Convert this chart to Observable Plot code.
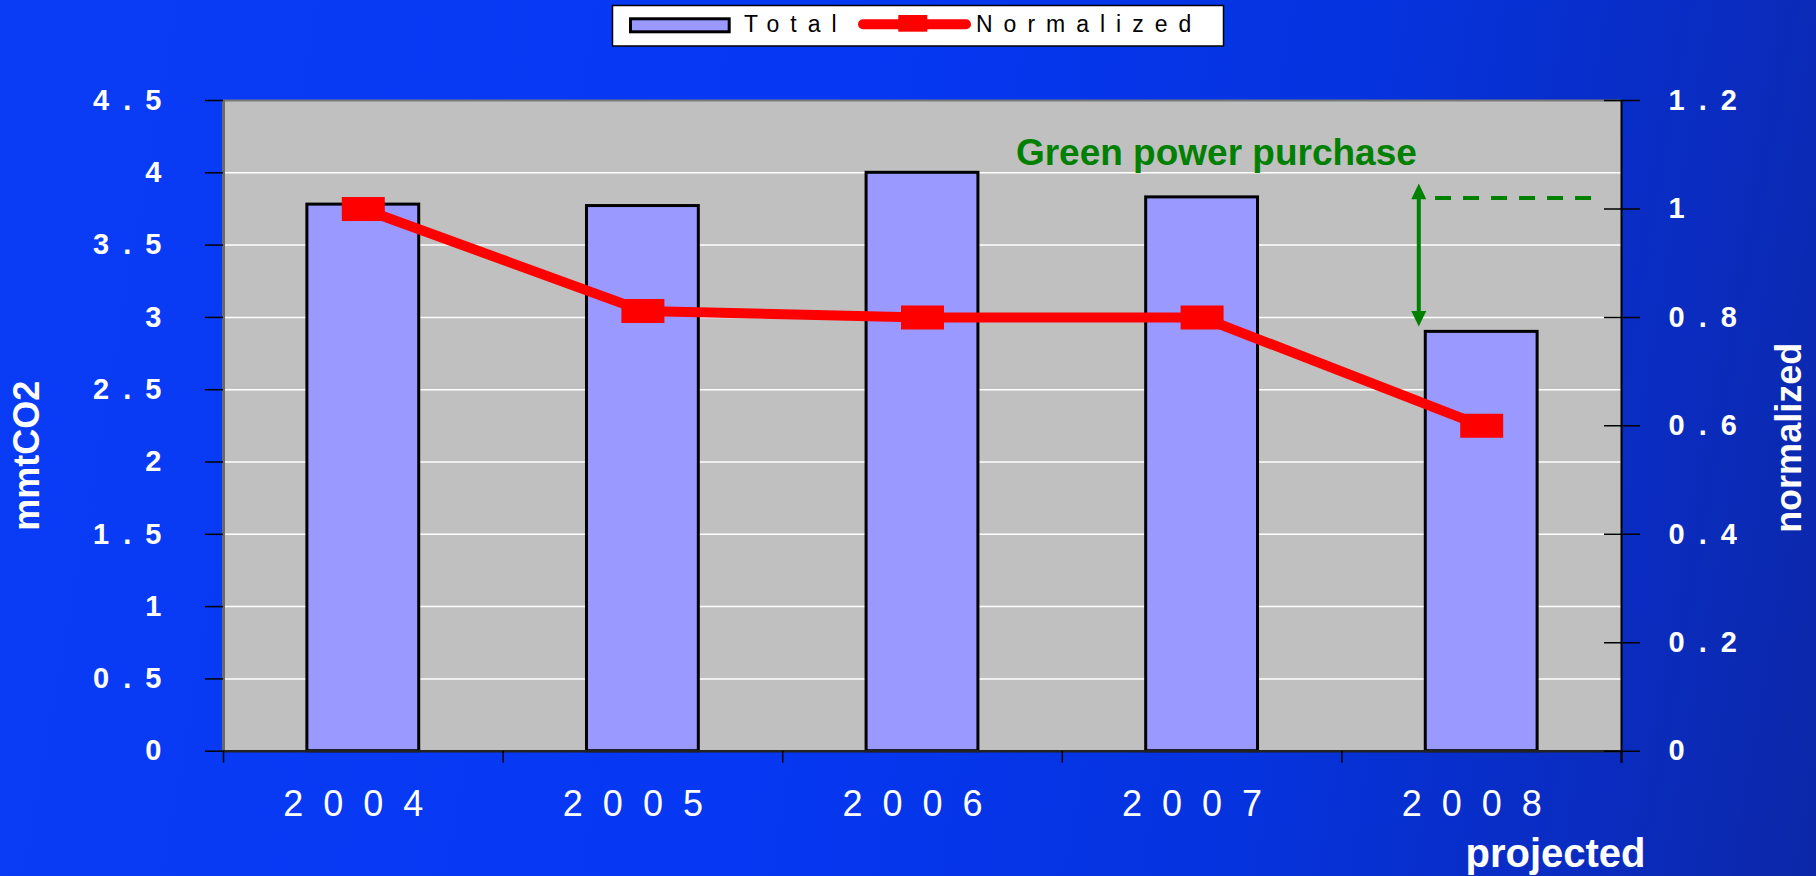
<!DOCTYPE html>
<html>
<head>
<meta charset="utf-8">
<script src="https://cdn.jsdelivr.net/npm/d3@7"></script>
<script src="https://cdn.jsdelivr.net/npm/@observablehq/plot@0.6"></script>
<style>
  html, body { margin: 0; padding: 0; width: 1816px; height: 876px; overflow: hidden; }
  body {
    font-family: Arial, "Liberation Sans", sans-serif;
    background: linear-gradient(100deg, #0a3cf6 0%, #0637f2 45%, #0533de 70%, #0a2cc0 88%, #0c28a8 100%);
  }
  #legend { position: relative; width: 1816px; height: 50px; }
  #legend svg { position: absolute; left: 0; top: 0; }
  g[aria-label="y-axis tick label"] text { letter-spacing: 3px; }
  g[aria-label="x-axis tick label"] text { letter-spacing: 20px; }
</style>
</head>
<body>
<div id="legend"></div>
<div id="chart"></div>
<script>
// ---- data ----
const years = ["2004", "2005", "2006", "2007", "2008"];
const total = [3.78, 3.77, 4.0, 3.83, 2.90];
const normalized = [1.0, 0.812, 0.80, 0.80, 0.60];
const leftTicks = [0, 0.5, 1, 1.5, 2, 2.5, 3, 3.5, 4, 4.5];
const rightTicks = [0, 0.2, 0.4, 0.6, 0.8, 1.0, 1.2];
const legendLabels = ["Total", "Normalized"];
const leftTitle = "mmtCO2";
const rightTitle = "normalized";
const noteText = "Green power purchase";
const noteSub = "projected";
const purchaseRange = [0.783, 1.047];   // normalized units (arrow)
const purchaseLevel = 1.02;             // normalized units (dashed line)

// ---- derived ----
const K = 4.5 / 1.2; // maps normalized axis onto the mmtCO2 axis
const rows = years.map((year, i) => ({i, year, total: total[i], norm: normalized[i] * K}));
const spaced = d => String(d).split("").join(" ");

const wideSquare = {draw(ctx) { ctx.rect(-21.5, -12, 43, 24); }};
const triUp = {draw(ctx) { ctx.moveTo(0, 0); ctx.lineTo(7.5, 15.7); ctx.lineTo(-7.5, 15.7); ctx.closePath(); }};
const triDown = {draw(ctx) { ctx.moveTo(0, 0); ctx.lineTo(7.5, -15.7); ctx.lineTo(-7.5, -15.7); ctx.closePath(); }};

// ---- legend ----
document.getElementById("legend").innerHTML = `
<svg width="1816" height="50" font-family="Arial, 'Liberation Sans', sans-serif">
  <rect x="612.5" y="5.5" width="611" height="40.5" fill="white" stroke="black" stroke-width="1.5"/>
  <rect x="630.5" y="18.8" width="98.7" height="13" fill="#9999ff" stroke="black" stroke-width="3"/>
  <text x="744" y="31.7" font-size="23" letter-spacing="11" fill="black">${legendLabels[0]}</text>
  <line x1="863" y1="24.3" x2="966" y2="24.3" stroke="red" stroke-width="10" stroke-linecap="round"/>
  <rect x="898.3" y="15" width="29" height="16.7" fill="red"/>
  <text x="976" y="31.7" font-size="23" letter-spacing="11" fill="black">${legendLabels[1]}</text>
</svg>`;

// ---- chart ----
const chart = Plot.plot({
  width: 1816,
  height: 826,
  marginTop: 50,
  marginBottom: 125.3,
  marginLeft: 223,
  marginRight: 195,
  style: {fontFamily: "Arial, 'Liberation Sans', sans-serif", background: "transparent", overflow: "visible"},
  x: {type: "linear", domain: [-0.5, 4.5], label: null},
  y: {type: "linear", domain: [0, 4.5], label: null},
  marks: [
    Plot.frame({fill: "#c0c0c0", stroke: null}),
    Plot.gridY(leftTicks.filter(d => d > 0 && d < 4.5), {stroke: "white", strokeOpacity: 1, strokeWidth: 1.5}),
    Plot.ruleY([4.5], {stroke: "#7a7a7a", strokeWidth: 2}),
    Plot.ruleX([-0.5], {stroke: "#6a6a6a", strokeWidth: 3}),
    Plot.rect(rows, {x1: d => d.i - 0.2, x2: d => d.i + 0.2, y1: d => 0, y2: "total", fill: "#9999ff", stroke: "black", strokeWidth: 3}),
    Plot.ruleY([0], {stroke: "#222", strokeWidth: 2.5}),
    Plot.ruleX([4.5], {stroke: "black", strokeWidth: 2, insetBottom: -12}),
    Plot.line(rows, {x: "i", y: "norm", stroke: "red", strokeWidth: 10, strokeLinejoin: "miter"}),
    Plot.dot(rows, {x: "i", y: "norm", symbol: wideSquare, fill: "red", stroke: null}),
    // annotation
    Plot.link([purchaseRange], {x1: () => 3.775, x2: () => 3.775, y1: d => d[0] * K + 0.05, y2: d => d[1] * K - 0.05, stroke: "#008000", strokeWidth: 4}),
    Plot.dot([purchaseRange[1]], {x: () => 3.775, y: d => d * K, symbol: triUp, fill: "#008000", stroke: null}),
    Plot.dot([purchaseRange[0]], {x: () => 3.775, y: d => d * K, symbol: triDown, fill: "#008000", stroke: null}),
    Plot.ruleY([purchaseLevel * K], {x1: () => 3.835, x2: () => 4.393, stroke: "#008000", strokeWidth: 4, strokeDasharray: "16,12"}),
    Plot.text([noteText], {x: () => 2.334, y: () => 4.057, text: d => d, textAnchor: "start", lineAnchor: "bottom", fontSize: 37, fontWeight: "bold", fill: "#008000"}),
    // axes
    Plot.axisY(leftTicks, {anchor: "left", label: null, tickSize: 18, tickPadding: 41, tickFormat: spaced, fontSize: 29, fontWeight: "bold", fill: "white", stroke: "black", strokeWidth: 1.5}),
    Plot.axisY(rightTicks.map(d => d * K), {anchor: "right", label: null, tickSize: 36, dx: -18, tickPadding: 29, tickFormat: d => spaced(+(d / K).toFixed(1)), fontSize: 29, fontWeight: "bold", fill: "white", stroke: "black", strokeWidth: 1.5}),
    Plot.axisX([-0.5, 0.5, 1.5, 2.5, 3.5, 4.5], {label: null, tickSize: 12, tickFormat: () => "", stroke: "black", strokeWidth: 1.5}),
    Plot.axisX([0, 1, 2, 3, 4], {label: null, tickSize: 0, tickPadding: 39.7, tickFormat: i => years[i], fontSize: 36, fill: "white"}),
    Plot.text([leftTitle], {frameAnchor: "left", dx: 27 - 223, dy: 30, rotate: -90, text: d => d, textAnchor: "middle", fontSize: 36, fontWeight: "bold", fill: "white", lineAnchor: "middle"}),
    Plot.text([rightTitle], {frameAnchor: "right", dx: 168, dy: 12, rotate: -90, text: d => d, textAnchor: "middle", fontSize: 36, fontWeight: "bold", fill: "white", lineAnchor: "middle"}),
    Plot.text([noteSub], {x: () => 4.264, y: () => 0, dy: 115.3, text: d => d, lineAnchor: "bottom", fontSize: 40, fontWeight: "bold", fill: "white"})
  ]
});
document.getElementById("chart").appendChild(chart);
</script>
</body>
</html>
